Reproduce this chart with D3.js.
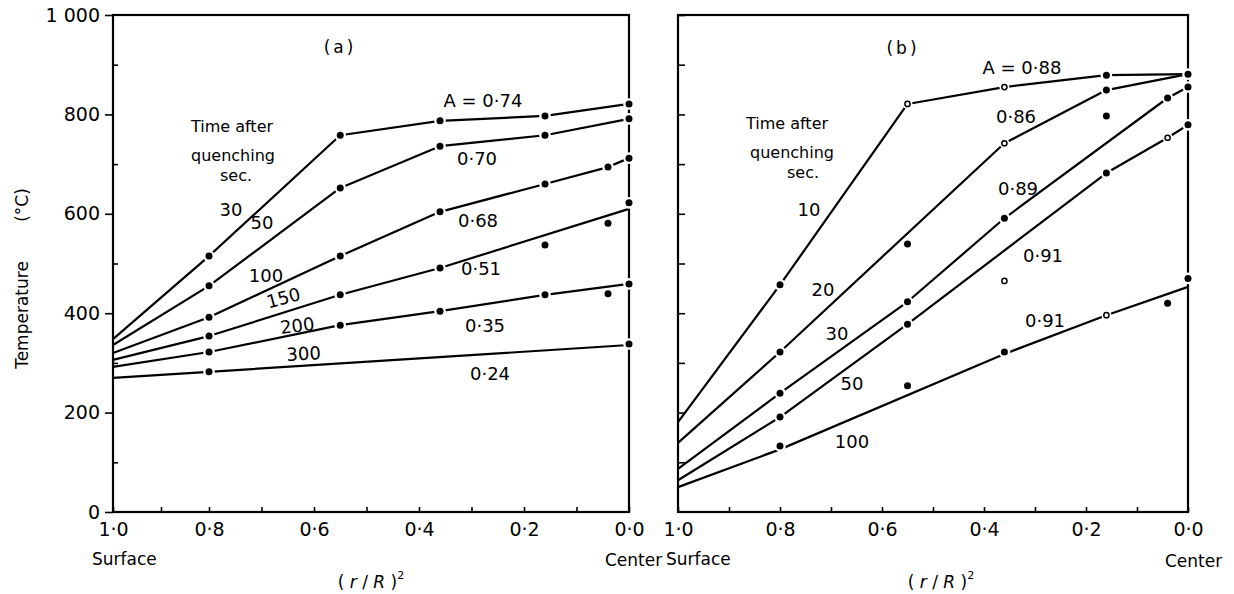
<!DOCTYPE html>
<html><head><meta charset="utf-8">
<script src="https://cdn.jsdelivr.net/npm/d3@7"></script>
<style>
body{margin:0;background:#fff;}
svg text{font-family:"DejaVu Sans",sans-serif;fill:#000;}
</style></head><body>
<svg id="chart" width="1234" height="594"></svg>
<script>
// ---------------- DATA ----------------
const xPositions = [0.8, 0.55, 0.36, 0.16, 0.04, 0.0];           // (r/R)^2 of measuring points
const xTickValues = [1.0,0.9,0.8,0.7,0.6,0.5,0.4,0.3,0.2,0.1,0.0];
const xLabelValues = [1.0,0.8,0.6,0.4,0.2,0.0];
const xLabelTexts  = ["1·0","0·8","0·6","0·4","0·2","0·0"];
const yMajorValues = [0,200,400,600,800,1000];
const yMajorTexts  = ["0","200","400","600","800","1 000"];
const yMinorValues = [100,300,500,700,900];
const yAllValues   = [100,200,300,400,500,600,700,800,900,1000];

// Panel (a)
const timesA  = ["30","50","100","150","200","300"];
const coeffsA = ["A = 0·74","0·70","0·68","0·51","0·35","0·24"];
const lineA30  = [[1,348],[0.8,515],[0.55,758],[0.36,787],[0.16,797],[0,821]];
const lineA50  = [[1,336],[0.8,455],[0.55,652],[0.36,736],[0.16,758],[0,791]];
const lineA100 = [[1,320],[0.8,392],[0.55,515],[0.36,604],[0.16,660],[0.04,694],[0,712]];
const lineA150 = [[1,306],[0.8,354],[0.55,437],[0.36,491],[0,610]];
const lineA200 = [[1,292],[0.8,322],[0.55,376],[0.36,404],[0.16,437],[0,459]];
const lineA300 = [[1,270],[0.8,282],[0,336]];
const dotsA30  = [515,758,787,797,null,821];
const dotsA50  = [455,652,736,758,null,791];
const dotsA100 = [392,515,604,660,694,712];
const dotsA150 = [354,437,491,537,581,622];
const dotsA200 = [322,376,404,437,439,459];
const dotsA300 = [282,null,null,null,null,338];

// Panel (b)
const timesB  = ["10","20","30","50","100"];
const coeffsB = ["A = 0·88","0·86","0·89","0·91","0·91"];
const lineB10  = [[1,181],[0.8,457],[0.55,821],[0.36,855],[0.16,879],[0,881]];
const lineB20  = [[1,139],[0.8,322],[0.36,742],[0.16,849],[0,881]];
const lineB30  = [[1,87],[0.8,239],[0.55,423],[0.36,591],[0.04,833],[0,855]];
const lineB50  = [[1,64],[0.8,191],[0.55,378],[0.16,682],[0.04,753],[0,779]];
const lineB100 = [[1,50],[0.8,126],[0.36,318],[0.16,396],[0,453]];
const dotsB10  = [457,821,855,879,null,881];
const dotsB20  = [322,539,742,849,null,null];
const dotsB30  = [239,423,591,797,833,855];
const dotsB50  = [191,378,465,682,753,779];
const dotsB100 = [133,254,322,396,420,470];
const openB10  = [0,1,1,0,0,0];
const openB20  = [0,0,1,0,0,0];
const openB30  = [0,0,0,0,0,0];
const openB50  = [0,0,1,0,1,0];
const openB100 = [0,0,0,1,0,0];

// ---------------- LAYOUT ----------------
const svg = d3.select("#chart");
const y = d3.scaleLinear().domain([0,1000]).range([512,15]);
const xA = d3.scaleLinear().domain([1,0.8,0]).range([113,209,629]);
const xB = d3.scaleLinear().domain([1,0]).range([678,1188]);

function styleAxis(g, size){
  g.select(".domain").remove();
  g.attr("font-family",'"DejaVu Sans",sans-serif').attr("font-size",size);
  g.selectAll(".tick line").attr("stroke","#000").attr("stroke-width",1.6);
}

function drawPanel(x, lines, dots, opens, showYLabels){
  const g = svg.append("g");
  g.append("g").attr("transform",`translate(0,${y(0)})`)
    .call(d3.axisBottom(x).tickValues(xTickValues).tickSize(-5).tickFormat(""))
    .call(a=>styleAxis(a,19));
  g.append("g").attr("transform",`translate(0,${y(0)})`)
    .call(d3.axisBottom(x).tickValues(xLabelValues).tickSize(0).tickPadding(11)
      .tickFormat(d=>xLabelTexts[xLabelValues.indexOf(d)]))
    .call(a=>styleAxis(a,19));
  if(showYLabels){
    g.append("g").attr("transform",`translate(${x(1)},0)`)
      .call(d3.axisLeft(y).tickValues(yMajorValues).tickSize(8).tickPadding(5)
        .tickFormat(d=>yMajorTexts[yMajorValues.indexOf(d)]))
      .call(a=>styleAxis(a,19));
    g.append("g").attr("transform",`translate(${x(1)},0)`)
      .call(d3.axisLeft(y).tickValues(yMinorValues).tickSize(-5).tickFormat(""))
      .call(a=>styleAxis(a,19));
  } else {
    g.append("g").attr("transform",`translate(${x(1)},0)`)
      .call(d3.axisLeft(y).tickValues(yAllValues).tickSize(-7).tickFormat(""))
      .call(a=>styleAxis(a,19));
  }
  g.append("rect").attr("x",x(1)).attr("y",y(1000))
    .attr("width",x(0)-x(1)).attr("height",y(0)-y(1000))
    .attr("fill","none").attr("stroke","#000").attr("stroke-width",2.2);
  const line = d3.line().x(d=>x(d[0])).y(d=>y(d[1]));
  lines.forEach(l=>{
    g.append("path").attr("d",line(l)).attr("fill","none")
      .attr("stroke","#000").attr("stroke-width",2.2).attr("stroke-linejoin","round");
  });
  const pts = [];
  dots.forEach((arr,si)=>arr.forEach((v,i)=>{
    if(v!==null) pts.push({x:xPositions[i], v:v, open: opens ? opens[si][i] : 0});
  }));
  g.selectAll(null).data(pts).enter().append("circle")
    .attr("cx",d=>x(d.x)).attr("cy",d=>y(d.v)).attr("r",d=>d.open?5:5.8).attr("fill","#fff");
  g.selectAll(null).data(pts).enter().append("circle")
    .attr("cx",d=>x(d.x)).attr("cy",d=>y(d.v))
    .attr("r",d=>d.open?2.6:3.5)
    .attr("fill",d=>d.open?"#fff":"#000")
    .attr("stroke","#000").attr("stroke-width",d=>d.open?1.5:0);
  return g;
}

drawPanel(xA, [lineA30,lineA50,lineA100,lineA150,lineA200,lineA300],
  [dotsA30,dotsA50,dotsA100,dotsA150,dotsA200,dotsA300], null, true);
drawPanel(xB, [lineB10,lineB20,lineB30,lineB50,lineB100],
  [dotsB10,dotsB20,dotsB30,dotsB50,dotsB100], [openB10,openB20,openB30,openB50,openB100], false);

function label(txt, px, py, size, rot, anchor){
  const t = svg.append("text").attr("x",px).attr("y",py).attr("font-size",size)
    .attr("text-anchor",anchor||"middle").text(txt);
  if(rot) t.attr("transform",`rotate(${rot},${px},${py})`);
  return t;
}

label("(a)",340,53,17).attr("letter-spacing",3);
label("(b)",903,54,17).attr("letter-spacing",3);

[["Time after",232,132],["quenching",233,161],["sec.",236,181]].forEach(d=>label(d[0],d[1],d[2],16));
[["Time after",787,129],["quenching",792,158],["sec.",803,178]].forEach(d=>label(d[0],d[1],d[2],16));

const timePosA = [[231,216,0],[262,229,0],[266,282,0],[285,304,-15],[298,332,-7],[304,360,-3]];
timesA.forEach((t,i)=>label(t,timePosA[i][0],timePosA[i][1],18,timePosA[i][2]));
const timePosB = [[809,216],[823,296],[837,340],[852,390],[852,448]];
timesB.forEach((t,i)=>label(t,timePosB[i][0],timePosB[i][1],18));

const coeffPosA = [[483,107],[477,165],[478,227],[481,275],[485,332],[490,380]];
coeffsA.forEach((t,i)=>label(t,coeffPosA[i][0],coeffPosA[i][1],18));
const coeffPosB = [[1022,74],[1016,123],[1018,195],[1043,262],[1045,327]];
coeffsB.forEach((t,i)=>label(t,coeffPosB[i][0],coeffPosB[i][1],18));

label("Temperature",28,315,17,-90);
label("(°C)",28,205,17,-90);
label("Surface",92,565,17,"","start");
label("Center",605,566,17,"","start");
label("Surface",666,565,17,"","start");
label("Center",1165,567,17,"","start");

function rR(px,py){
  const t = svg.append("text").attr("x",px).attr("y",py).attr("font-size",17)
    .attr("text-anchor","middle").attr("xml:space","preserve");
  t.append("tspan").text("( ");
  t.append("tspan").attr("font-style","italic").text("r");
  t.append("tspan").text(" / ");
  t.append("tspan").attr("font-style","italic").text("R");
  t.append("tspan").text(" )");
  t.append("tspan").attr("font-size",11).attr("dy",-9).text("2");
}
rR(371,588);
rR(941,588);
</script>
</body></html>
